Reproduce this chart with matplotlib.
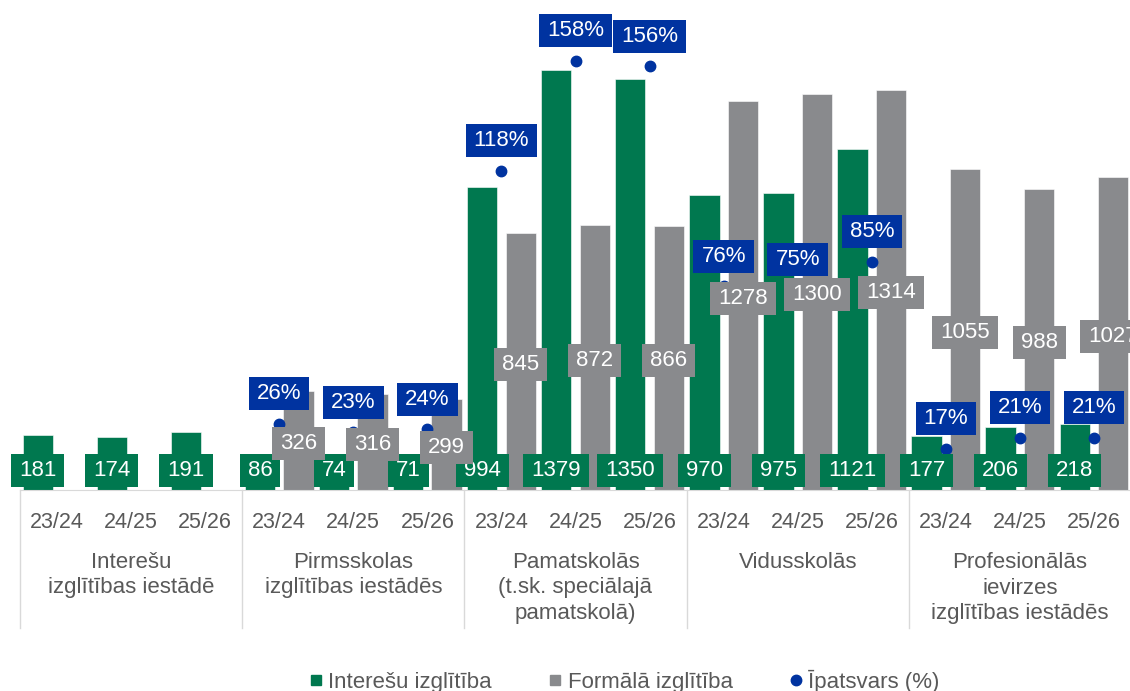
import numpy as np
import matplotlib
matplotlib.use("Agg")
import matplotlib.pyplot as plt
import matplotlib.transforms as mtransforms
from matplotlib.lines import Line2D
from matplotlib.path import Path

plt.rcParams["font.family"] = ["Liberation Sans", "DejaVu Sans"]

# data
years = ["23/24", "24/25", "25/26"] * 5
groups = [
    "Interešu\nizglītības iestādē",
    "Pirmsskolas\nizglītības iestādēs",
    "Pamatskolās\n(t.sk. speciālajā\npamatskolā)",
    "Vidusskolās",
    "Profesionālās\nievirzes\nizglītības iestādēs",
]
interest = [181, 174, 191, 86, 74, 71, 994, 1379, 1350, 970, 975, 1121, 177, 206, 218]
formal = [None, None, None, 326, 316, 299, 845, 872, 866, 1278, 1300, 1314, 1055, 988, 1027]
share = [None, None, None, 26, 23, 24, 118, 158, 156, 76, 75, 85, 17, 21, 21]

GREEN = "#00784F"
GREY = "#898A8D"
BLUE = "#0033A0"
TXT = "#595959"
LINE = "#D9D9D9"


def wide_box(x0, y0, width, height, mutation_size):
    # rectangle with more padding left/right than top/bottom
    px = 0.36 * mutation_size
    py = 0.27 * mutation_size
    x0, y0 = x0 - px, y0 - py
    x1, y1 = x0 + width + 2 * px, y0 + height + 2 * py
    return Path([(x0, y0), (x1, y0), (x1, y1), (x0, y1), (x0, y0)],
                [Path.MOVETO, Path.LINETO, Path.LINETO, Path.LINETO, Path.CLOSEPOLY])


W, H = 1130, 691
fig = plt.figure(figsize=(W / 100, H / 100), dpi=100)
ax = fig.add_axes([20 / W, (H - 490) / H, 1111 / W, 487 / H])
ax2 = ax.twinx()

x = np.arange(len(years))
fx = [i for i, v in zip(x, formal) if v is not None]
fv = [v for v in formal if v is not None]
sx = [i for i, v in zip(x, share) if v is not None]
sv = [v for v in share if v is not None]

ax.bar(x - 0.26, interest, width=0.41, color=GREEN, edgecolor="white", linewidth=0.4, zorder=2)
ax.bar(np.array(fx) + 0.26, fv, width=0.41, color=GREY, edgecolor="white", linewidth=0.4, zorder=2)

ax.set_xlim(-0.5, len(years) - 0.5)
ax.set_ylim(0, 1600)
ax2.set_ylim(2, 179)
ax2.plot(sx, sv, linestyle="none", marker="o", markersize=7.5, color=BLUE, zorder=3)

for a in (ax, ax2):
    for s in a.spines.values():
        s.set_visible(False)
    a.set_xticks([])
    a.set_yticks([])
ax.spines["bottom"].set_visible(True)
ax.spines["bottom"].set_color(LINE)

# labels (on ax2 so they sit above the dots)
for i, v in zip(x, interest):
    ax2.annotate(str(v), xy=(i - 0.26, 0), xycoords=ax.transData, xytext=(0, 13.7),
                 textcoords="offset points", ha="center", va="center", fontsize=16,
                 color="white", zorder=4,
                 bbox=dict(boxstyle=wide_box, fc=GREEN, ec="none"))
for i, v in zip(fx, fv):
    ax2.annotate(str(v), xy=(i + 0.26, v / 2), xycoords=ax.transData, xytext=(0, -2),
                 textcoords="offset points", ha="center", va="center", fontsize=16,
                 color="white", zorder=4,
                 bbox=dict(boxstyle=wide_box, fc=GREY, ec="none"))
for i, v in zip(sx, sv):
    ax2.annotate(f"{v}%", xy=(i, v), xytext=(0, 21.6),
                 textcoords="offset points", ha="center", va="center", fontsize=16,
                 color="white", zorder=5,
                 bbox=dict(boxstyle=wide_box, fc=BLUE, ec="none"))

# multi-level category axis
trans = mtransforms.blended_transform_factory(ax.transData, ax.transAxes)
for i, yr in zip(x, years):
    ax.annotate(yr, xy=(i, 0), xycoords=trans, xytext=(0, -32 * 0.72),
                textcoords="offset points", ha="center", va="center",
                fontsize=15.5, color=TXT, annotation_clip=False)
for g, name in enumerate(groups):
    for k, line in enumerate(name.split("\n")):
        ax.annotate(line, xy=(g * 3 + 1, 0), xycoords=trans,
                    xytext=(0, -(72 + 26 * k) * 0.72), textcoords="offset points",
                    ha="center", va="center", fontsize=16, color=TXT,
                    annotation_clip=False)
for b in np.arange(-0.5, len(years), 3):
    ax.add_line(Line2D([b, b], [0, -138 / 487], transform=trans, color=LINE,
                       linewidth=1, clip_on=False))

handles = [
    Line2D([], [], linestyle="none", marker="s", markersize=7.5, color=GREEN),
    Line2D([], [], linestyle="none", marker="s", markersize=7.5, color=GREY),
    Line2D([], [], linestyle="none", marker="o", markersize=7.5, color=BLUE),
]
fig.legend(handles, ["Interešu izglītība", "Formālā izglītība", "Īpatsvars (%)"],
           loc="center", bbox_to_anchor=(625 / W, 1 - 681 / H), ncol=3, frameon=False,
           fontsize=16, labelcolor=TXT, handlelength=0.5, handletextpad=0.3,
           columnspacing=2.6, borderpad=0)

fig.savefig("out.png", dpi=100)
